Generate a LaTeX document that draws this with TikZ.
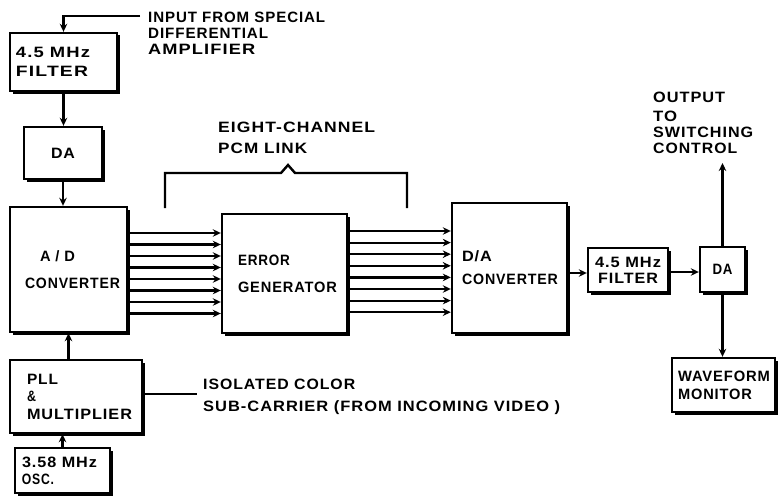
\documentclass[tikz,border=0pt]{standalone}
\usepackage{fontspec}
\usepackage{graphicx}
\usetikzlibrary{arrows.meta,shadows}
\newfontfamily\lf{Liberation Sans}[LetterSpace=6]
\newcommand\fs[1]{\fontsize{15pt}{#1pt}\lf\bfseries}
\newcommand\fw[2]{\resizebox{#1pt}{\height}{#2}}
\tikzset{
  box/.style={draw, line width=2.4pt, fill=white, inner ysep=0pt,
    drop shadow={shadow xshift=2.5pt, shadow yshift=-2.5pt, opacity=1, fill=black}},
  arr/.style={line width=2.2pt, -{Stealth[length=8pt,width=7.5pt]}},
  ln/.style={line width=2.2pt},
  lbl/.style={inner sep=0pt, align=left, anchor=north west, font=\fs{#1}}
}
\begin{document}
\begin{tikzpicture}[x=1pt,y=-1pt]
\useasboundingbox (0,0) rectangle (778,495);

% boxes
\node[box, minimum width=107, minimum height=58, text width=95, inner xsep=6, align=left, font=\fs{19}]
  (filt1) at (63.5,62) {\fw{74}{4.5 MHz}\\\fw{72}{FILTER}};
\node[box, minimum width=78, minimum height=52, inner xsep=0, font=\fs{16}]
  (DA1) at (63,153) {\fw{24}{DA}};
\node[box, minimum width=117, minimum height=125, text width=87, inner xsep=15, align=left, font=\fs{27}]
  (AD) at (68.5,269.5) {\hspace*{15pt}\fw{35}{A / D}\\\fw{95}{CONVERTER}};
\node[box, minimum width=125, minimum height=119, text width=93, inner xsep=16, align=left, font=\fs{27}]
  (ERR) at (284.5,273.5) {\fw{52}{ERROR}\\\fw{99}{GENERATOR}};
\node[box, minimum width=115, minimum height=130, text width=95, inner xsep=10, align=left, font=\fs{23}]
  (DAC) at (509.5,268) {\fw{30}{D/A}\\\fw{96}{CONVERTER}};
\node[box, minimum width=80, minimum height=44, inner xsep=0, align=center, font=\fs{16}]
  (filt2) at (628,270) {\fw{66}{4.5 MHz}\\\fw{60}{FILTER}};
\node[box, minimum width=45, minimum height=45, inner xsep=0, font=\fs{16}]
  (DA2) at (722.5,269.5) {\fw{20}{DA}};
\node[box, minimum width=103, minimum height=54, text width=91, inner xsep=6, align=left, font=\fs{18}]
  (WFM) at (723.5,385) {\fw{92}{WAVEFORM}\\\fw{74}{MONITOR}};
\node[box, minimum width=132, minimum height=73, text width=98, inner xsep=17, align=left, font=\fs{17.5}]
  (PLL) at (76,396.5) {\fw{31}{PLL}\\\fw{9}{\&}\\\fw{105}{MULTIPLIER}};
\node[box, minimum width=95, minimum height=45, text width=81, inner xsep=7, align=left, font=\fs{17}]
  (OSC) at (62.5,470.5) {\fw{75}{3.58 MHz}\\\fw{32}{OSC.}};

% free labels
\node[lbl=16] (inlbl) at (148,12)
  {\fw{177}{INPUT FROM SPECIAL}\\\fw{120}{DIFFERENTIAL}\\\fw{107}{AMPLIFIER}};
\node[lbl=21] (pcmlbl) at (218,122)
  {\fw{157}{EIGHT-CHANNEL}\\\fw{89}{PCM LINK}};
\node[lbl=16] (outlbl) at (653,92)
  {\fw{72}{OUTPUT}\\[3pt]\fw{24}{TO}\\\fw{100}{SWITCHING}\\\fw{84}{CONTROL}};
\node[lbl=22] (isolbl) at (203,379)
  {\fw{152}{ISOLATED COLOR}\\\fw{357}{SUB-CARRIER (FROM INCOMING VIDEO )}};

% connectors
\coordinate (inp) at (140,16);
\draw[arr] (inp) -- (inp -| filt1.north) -- (filt1.north);
\draw[arr] (filt1.south) -- (filt1.south |- DA1.north);
\draw[arr] (DA1.south) -- (DA1.south |- AD.north);
\draw[arr] (PLL.north -| AD.south) -- (AD.south);
\draw[arr] (OSC.north) -- (OSC.north |- PLL.south);
\foreach \i in {0,...,7}{
  \pgfmathsetmacro\ya{233+11.5*\i}
  \pgfmathsetmacro\yb{231+11.6*\i}
  \draw[arr] (AD.east |- 0,\ya) -- (ERR.west |- 0,\ya);
  \draw[arr] (ERR.east |- 0,\yb) -- (DAC.west |- 0,\yb);
}
\draw[arr] (DAC.east |- 0,273) -- (filt2.west |- 0,273);
\draw[arr] (filt2.east |- 0,272) -- (DA2.west |- 0,272);
\coordinate (outp) at (723,163);
\draw[arr] (DA2.north) -- (DA2.north |- outp);
\draw[arr] (DA2.south) -- (DA2.south |- WFM.north);
\coordinate (isoend) at (197,394);
\draw[ln] (PLL.east |- isoend) -- (isoend);

% bracket
\coordinate (bl) at (165,208);
\coordinate (br) at (407,208);
\draw[line width=2.4pt] (bl) -- (165,173) -- (281,173) -- (288,165) -- (295,173) -- (407,173) -- (br);
\end{tikzpicture}
\end{document}
